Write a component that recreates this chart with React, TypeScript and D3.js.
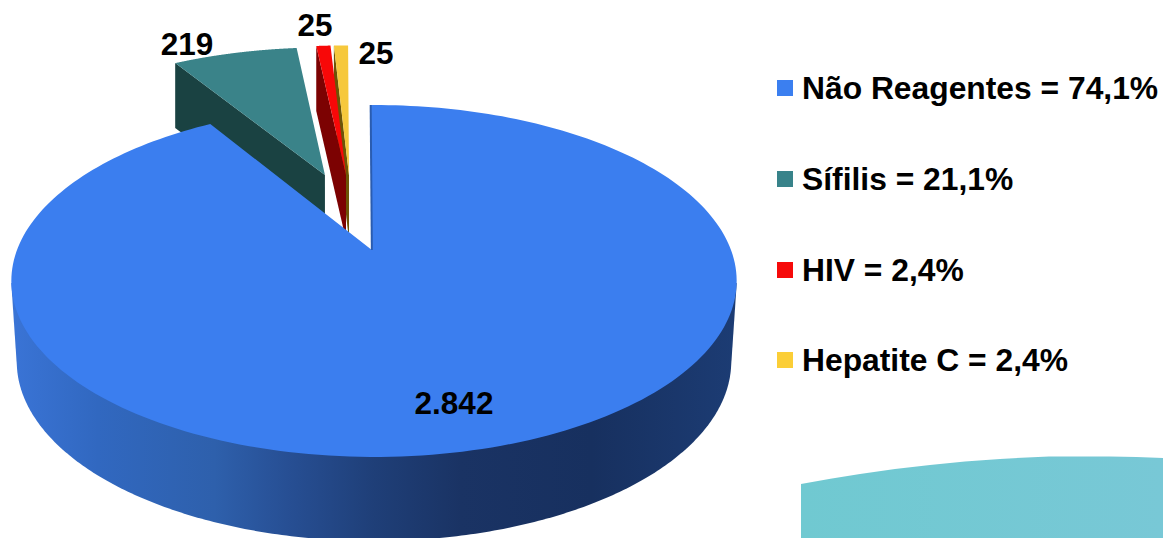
import React from "react";
import * as d3 from "d3";

const categories = ["Não Reagentes", "Sífilis", "HIV", "Hepatite C"];
const values = [2842, 219, 25, 25];
const valueLabels = ["2.842", "219", "25", "25"];
const legendLabels = ["Não Reagentes = 74,1%", "Sífilis = 21,1%", "HIV = 2,4%", "Hepatite C = 2,4%"];
const legendColors = ["#3b7ff0", "#38838a", "#f60a0a", "#fbce37"];
const topColors = ["#3b7eef", "#3a8389", "#f80808", "#f6c83c"];
const wallColors = ["#2a5cb0", "#1a4242", "#7c0202", "#6d5406"];

// Reference-specific slice offsets on the pie's circular plane (u right, v away)
const rimOffsets = [[0, 0], [-0.173, 0.502], [-0.104, 0.521], [-0.092, 0.521]];
const apexOffsets = [[-0.006, 0], [-0.149, 0.477], [-0.085, 0.477], [-0.076, 0.477]];
const blueStartGap = 0.013;
const blueEndTrim = 0.012;

const W = 1163, H = 538;
const CX = 374, CY = 250, RX = 357, RY = 170.5, K = 0.176;
const SIDE_DEPTH = 65;

type P = [number, number];
const project = (u: number, v: number): P => {
  const w = 1 + K * v;
  return [CX + (RX * u) / w, CY - (RY * v) / w];
};
const lower = ([x, y]: P): P => [CX + (x - CX) * 0.985, CY + (y - CY) * 1.02 + 80];
const line = d3.line<P>();

const arcs = d3.pie<number>().sort(null)(values);
const rim = (a0: number, a1: number, off: number[]): P[] =>
  d3.range(0, 241).map((i) => {
    const a = a0 + ((a1 - a0) * i) / 240;
    return project(Math.sin(a) + off[0], Math.cos(a) + off[1]);
  });

const wedge = (i: number): string => {
  const { startAngle, endAngle } = arcs[i];
  const off = rimOffsets[i];
  const apex = project(apexOffsets[i][0], apexOffsets[i][1]);
  if (i === 0) {
    return line([apex, ...rim(startAngle - blueStartGap, startAngle, off), ...rim(startAngle, endAngle - blueEndTrim, off)])! + "Z";
  }
  return line([apex, ...rim(startAngle, endAngle, off)])! + "Z";
};

const sideWall = (i: number): string => {
  const { startAngle } = arcs[i];
  const a = rim(startAngle, startAngle, rimOffsets[i])[0];
  const b = project(apexOffsets[i][0], apexOffsets[i][1]);
  const e: P[] = [a, b, [b[0], b[1] + SIDE_DEPTH], [a[0], a[1] + SIDE_DEPTH]];
  return line(e)! + "Z";
};

const topEdge = rim(Math.PI * 0.56, Math.PI * 1.44, [0, 0]);
const outerWall = line(d3.polygonHull([...topEdge, ...topEdge.map(lower)]) as P[])! + "Z";

const gradStops: [number, string][] = [
  [0, "#3a74d6"], [0.12, "#3168c0"], [0.28, "#2e60ac"], [0.38, "#274f94"],
  [0.5, "#1f3f78"], [0.62, "#1a3364"], [0.8, "#17305f"], [1, "#1c3c74"],
];

const decorX = [801, 860, 930, 1000, 1060, 1110, 1163];
const decorY = [484, 474, 465, 459, 456.5, 456.5, 458];
const decorPath =
  d3.line<number>().x((d) => d).y((_, i) => decorY[i]).curve(d3.curveMonotoneX)(decorX)! +
  `L${W},${H}L801,${H}Z`;

const font = "'Liberation Sans', Arial, sans-serif";
const legendY = [99, 190, 281, 371];
const legendScale = d3.scaleOrdinal<string, number>().domain(categories).range(legendY);
const labelPos: [number, number][] = [[454, 414], [187, 55], [315, 36], [376, 64]];

export default function App() {
  return (
    <svg width={W} height={H} viewBox={`0 0 ${W} ${H}`} style={{ position: "absolute", left: 0, top: 0, background: "#fff" }}>
      <defs>
        <linearGradient id="wall" gradientUnits="userSpaceOnUse" x1={11} x2={737} y1={0} y2={0}>
          {gradStops.map(([o, c]) => <stop key={o} offset={o} stopColor={c} />)}
        </linearGradient>
        <linearGradient id="decor" x1="0" x2="1" y1="0" y2="0">
          <stop offset="0" stopColor="#70c9d1" />
          <stop offset="1" stopColor="#78c8d6" />
        </linearGradient>
      </defs>

      <path d={decorPath} fill="url(#decor)" />

      {[1, 3, 2].map((i) => (
        <g key={categories[i]}>
          <path d={sideWall(i)} fill={wallColors[i]} />
          <path d={wedge(i)} fill={topColors[i]} />
        </g>
      ))}

      <path d={outerWall} fill="url(#wall)" />
      <path d={wedge(0)} fill={topColors[0]} />
      <path d={line([project(apexOffsets[0][0], apexOffsets[0][1]), rim(0, 0, [-0.011, 0])[0]])!} stroke={wallColors[0]} strokeWidth={2} fill="none" />

      {valueLabels.map((t, i) => (
        <text key={i} x={labelPos[i][0]} y={labelPos[i][1]} textAnchor="middle" fontFamily={font} fontWeight="bold" fontSize={31.5} fill="#000">
          {t}
        </text>
      ))}

      {categories.map((c, i) => (
        <g key={c}>
          <rect x={777} y={legendScale(c) - 19} width={16} height={16} fill={legendColors[i]} />
          <text x={802} y={legendScale(c)} fontFamily={font} fontWeight="bold" fontSize={31.8} fill="#000">
            {legendLabels[i]}
          </text>
        </g>
      ))}
    </svg>
  );
}
